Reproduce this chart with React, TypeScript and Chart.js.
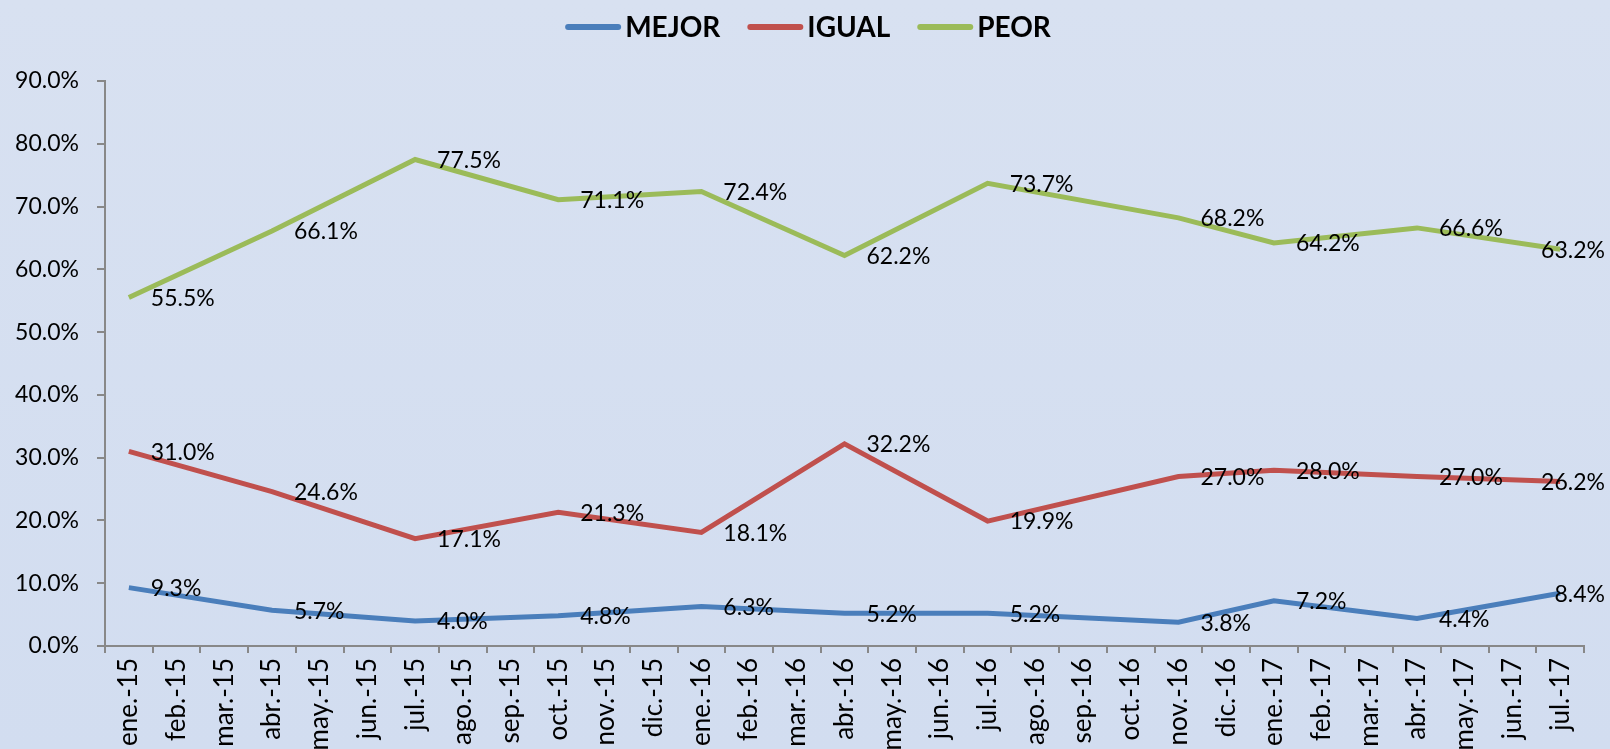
import React, { useEffect, useRef } from 'react';
import { Chart, registerables } from 'chart.js';

Chart.register(...registerables);

const categories = [
  'ene.-15', 'feb.-15', 'mar.-15', 'abr.-15', 'may.-15', 'jun.-15', 'jul.-15', 'ago.-15', 'sep.-15', 'oct.-15', 'nov.-15', 'dic.-15',
  'ene.-16', 'feb.-16', 'mar.-16', 'abr.-16', 'may.-16', 'jun.-16', 'jul.-16', 'ago.-16', 'sep.-16', 'oct.-16', 'nov.-16', 'dic.-16',
  'ene.-17', 'feb.-17', 'mar.-17', 'abr.-17', 'may.-17', 'jun.-17', 'jul.-17',
];

// survey months (positions within categories)
const surveyMonths = ['ene.-15', 'abr.-15', 'jul.-15', 'oct.-15', 'ene.-16', 'abr.-16', 'jul.-16', 'nov.-16', 'ene.-17', 'abr.-17', 'jul.-17'];

const mejor = [9.3, 5.7, 4.0, 4.8, 6.3, 5.2, 5.2, 3.8, 7.2, 4.4, 8.4];
const igual = [31.0, 24.6, 17.1, 21.3, 18.1, 32.2, 19.9, 27.0, 28.0, 27.0, 26.2];
const peor = [55.5, 66.1, 77.5, 71.1, 72.4, 62.2, 73.7, 68.2, 64.2, 66.6, 63.2];

const seriesNames = ['MEJOR', 'IGUAL', 'PEOR'];
const seriesColors = ['#4A7EBB', '#C0504D', '#9BBB59'];

const yMin = 0;
const yMax = 90;
const yStep = 10;

const W = 1610;
const H = 749;
const FONT = 'Lato';

const spread = (vals: number[]) =>
  categories.map((c) => {
    const i = surveyMonths.indexOf(c);
    return i >= 0 ? vals[i] : null;
  });

const bgPlugin = {
  id: 'bg',
  beforeDraw(chart: any) {
    const { ctx, width, height } = chart;
    ctx.save();
    const g = ctx.createLinearGradient(0, 0, 0, height);
    g.addColorStop(0, '#d8e1f1');
    g.addColorStop(1, '#d2ddf0');
    ctx.fillStyle = g;
    ctx.fillRect(0, 0, width, height);
    ctx.restore();
  },
};

const legendPlugin = {
  id: 'customLegend',
  afterDraw(chart: any) {
    const ctx = chart.ctx;
    ctx.save();
    ctx.font = `bold 28px ${FONT}`;
    ctx.textBaseline = 'middle';
    ctx.textAlign = 'left';
    const lineLen = 56;
    const gap = 4;
    const itemGap = 27;
    const items = chart.data.datasets.map((ds: any) => ({
      text: ds.label,
      color: ds.borderColor,
      w: ctx.measureText(ds.label).width,
    }));
    const total = items.reduce((s: number, it: any) => s + lineLen + gap + it.w, 0) + itemGap * (items.length - 1);
    let x = 808 - total / 2;
    const y = 27;
    items.forEach((it: any) => {
      ctx.strokeStyle = it.color;
      ctx.lineWidth = 6;
      ctx.lineCap = 'round';
      ctx.beginPath();
      ctx.moveTo(x + 3, y);
      ctx.lineTo(x + lineLen - 3, y);
      ctx.stroke();
      ctx.fillStyle = '#000';
      ctx.fillText(it.text, x + lineLen + gap, y + 1);
      x += lineLen + gap + it.w + itemGap;
    });
    ctx.restore();
  },
};

const labelPlugin = {
  id: 'pointLabels',
  afterDatasetsDraw(chart: any) {
    const ctx = chart.ctx;
    ctx.save();
    ctx.font = `23px ${FONT}`;
    ctx.fillStyle = '#000';
    ctx.textAlign = 'left';
    ctx.textBaseline = 'middle';
    chart.data.datasets.forEach((ds: any, di: number) => {
      const meta = chart.getDatasetMeta(di);
      meta.data.forEach((pt: any, i: number) => {
        const v = ds.data[i];
        if (v === null || v === undefined) return;
        const text = v.toFixed(1) + '%';
        const w = ctx.measureText(text).width;
        const x = Math.min(pt.x + 22, chart.width - 5 - w);
        ctx.fillText(text, x, pt.y + 1);
      });
    });
    ctx.restore();
  },
};

export default function App() {
  const ref = useRef<HTMLCanvasElement | null>(null);

  useEffect(() => {
    let chart: Chart | null = null;
    let cancelled = false;
    const make = () => {
      if (cancelled || !ref.current) return;
      const datasets = [mejor, igual, peor].map((vals, k) => ({
        label: seriesNames[k],
        data: spread(vals),
        borderColor: seriesColors[k],
        backgroundColor: seriesColors[k],
        borderWidth: 5,
        pointRadius: 0,
        pointHoverRadius: 0,
        tension: 0,
        spanGaps: true,
        fill: false,
      }));
      chart = new Chart(ref.current, {
        type: 'line',
        data: { labels: categories, datasets },
        options: {
          animation: false,
          responsive: false,
          devicePixelRatio: 1,
          layout: { padding: { top: 81, left: 0, right: 26, bottom: 0 } },
          plugins: {
            legend: { display: false },
            tooltip: { enabled: false },
          },
          scales: {
            x: {
              type: 'category',
              offset: true,
              grid: { offset: true, drawOnChartArea: false, drawTicks: true, tickLength: 7, color: '#888888', lineWidth: 2 },
              border: { color: '#888888', width: 2 },
              ticks: {
                autoSkip: false,
                minRotation: 90,
                maxRotation: 90,
                padding: 5,
                color: '#000',
                font: { family: FONT, size: 26 },
              },
              afterFit: (scale: any) => {
                scale.height = H - 646;
              },
            },
            y: {
              min: yMin,
              max: yMax,
              grid: { drawOnChartArea: false, drawTicks: true, tickLength: 8, color: '#888888', lineWidth: 2 },
              border: { color: '#888888', width: 2 },
              ticks: {
                stepSize: yStep,
                padding: 18,
                color: '#000',
                font: { family: FONT, size: 23 },
                callback: (v: any) => Number(v).toFixed(1) + '%',
              },
              afterFit: (scale: any) => {
                scale.width = 105;
              },
            },
          },
        },
        plugins: [bgPlugin, labelPlugin, legendPlugin],
      } as any);
    };
    if ((document as any).fonts && (document as any).fonts.load) {
      Promise.all([
        (document as any).fonts.load(`23px ${FONT}`),
        (document as any).fonts.load(`bold 28px ${FONT}`),
      ]).then(make, make);
    } else {
      make();
    }
    return () => {
      cancelled = true;
      if (chart) chart.destroy();
    };
  }, []);

  return (
    <div style={{ position: 'absolute', left: 0, top: 0, width: W, height: H, overflow: 'hidden' }}>
      <canvas ref={ref} width={W} height={H} style={{ width: W, height: H, display: 'block' }} />
    </div>
  );
}
